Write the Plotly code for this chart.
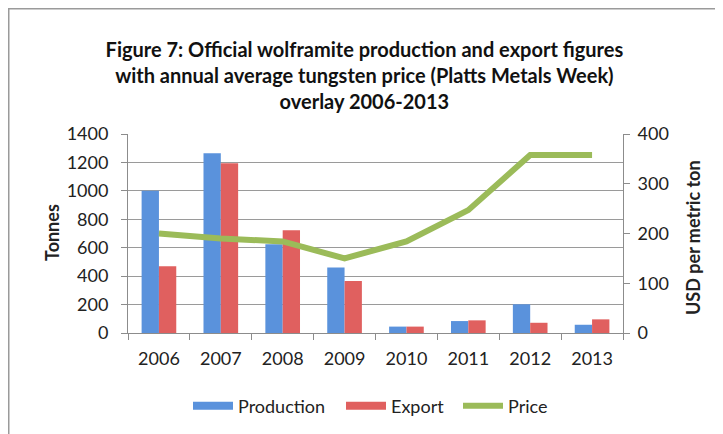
import plotly.graph_objects as go

# Data --------------------------------------------------------------------------
years = ['2006', '2007', '2008', '2009', '2010', '2011', '2012', '2013']
production = [1000, 1265, 625, 460, 45, 84, 202, 58]
export = [470, 1195, 722, 365, 45, 89, 72, 96]
price = [200, 190, 184, 150, 184, 247, 358, 358]

title_lines = [
    'Figure 7: Official wolframite production and export figures',
    'with annual average tungsten price (Platts Metals Week)',
    'overlay 2006-2013',
]

# Parameters --------------------------------------------------------------------
W, H = 723, 434
OFF = 8            # page body margin: figure is drawn 8px right and down
# plot area in screen pixels: x 128-623, y 134-333
L, T = 128 - OFF, 134 - OFF
R, B = W - (623 - OFF), H - (333 - OFF)
font_family = 'Lato, Carlito, Open Sans, sans-serif'
grid_colour = '#9a9a9a'
axis_colour = '#8c8c8c'
colour_prod = '#5a92dc'
colour_exp = '#e0605f'
colour_price = '#9bbb59'

pw, ph = W - L - R, H - T - B


def px_x(x):
    # screen x -> paper x
    return (x - OFF - L) / pw


def px_y(y):
    # screen y -> paper y
    return (H - B - (y - OFF)) / ph


fig = go.Figure()

fig.add_trace(go.Bar(
    x=years, y=production, name='Production', showlegend=False,
    marker=dict(color=colour_prod, line=dict(width=0)),
))
fig.add_trace(go.Bar(
    x=years, y=export, name='Export', showlegend=False,
    marker=dict(color=colour_exp, line=dict(width=0)),
))
fig.add_trace(go.Scatter(
    x=years, y=price, name='Price', yaxis='y2', showlegend=False,
    mode='lines', line=dict(color=colour_price, width=6),
))

# legend-only entries (wide swatches like the original), one legend each
legend_items = [('Production', colour_prod, 8, 'legend', 193),
                ('Export', colour_exp, 8, 'legend2', 346),
                ('Price', colour_price, 6, 'legend3', 463)]
for name, colour, width, leg, _ in legend_items:
    fig.add_trace(go.Scatter(
        x=[None], y=[None], name=name, mode='lines', legend=leg,
        line=dict(color=colour, width=width),
    ))

legend_base = dict(
    orientation='h', yanchor='middle', xanchor='left',
    font=dict(size=18), itemwidth=40, bgcolor='rgba(0,0,0,0)',
)
legends = {}
for _, _, _, leg, x0 in legend_items:
    legends[leg] = dict(legend_base, x=px_x(x0 - 5), y=px_y(406))

# Layout ------------------------------------------------------------------------
fig.update_layout(
    width=W, height=H,
    margin=dict(l=L, r=R, t=T, b=B, autoexpand=False),
    paper_bgcolor='white', plot_bgcolor='white',
    font=dict(family=font_family, size=18, color='#222222'),
    barmode='group', bargap=0.44, bargroupgap=0,
    title=dict(
        text='<br>'.join(title_lines),
        x=px_x(372), xanchor='center', y=1 - 49 / H, yanchor='top',
        font=dict(size=20, color='#111111', family=font_family, weight='bold'),
    ),
    **legends,
    xaxis=dict(
        automargin=False,
        showline=True, linecolor=axis_colour, linewidth=1,
        ticks='outside', tickson='boundaries', ticklen=6, tickcolor=axis_colour,
        ticklabelstandoff=9,
        showgrid=False,
    ),
    yaxis=dict(
        automargin=False,
        range=[0, 1400], dtick=200,
        showline=True, linecolor=axis_colour, linewidth=1,
        ticks='outside', ticklen=6, tickcolor=axis_colour,
        ticklabelstandoff=9,
        showgrid=True, gridcolor=grid_colour, gridwidth=1,
        zeroline=False,
    ),
    yaxis2=dict(
        automargin=False,
        range=[0, 400], dtick=100, overlaying='y', side='right',
        showline=True, linecolor=axis_colour, linewidth=1,
        ticks='outside', ticklen=6, tickcolor=axis_colour,
        ticklabelstandoff=4,
        showgrid=False, zeroline=False,
    ),
)

# Axis titles
fig.add_annotation(
    text='<b>Tonnes</b>', textangle=-90, showarrow=False,
    xref='paper', yref='paper', x=px_x(52), y=px_y(233),
    xanchor='center', yanchor='middle', font=dict(size=18),
)
fig.add_annotation(
    text='<b>USD per metric ton</b>', textangle=-90, showarrow=False,
    xref='paper', yref='paper', x=px_x(693), y=px_y(238),
    xanchor='center', yanchor='middle', font=dict(size=18),
)

# Chart border (sits at the very edge of the figure, right/bottom run off page)
fig.add_shape(
    type='rect', xref='paper', yref='paper',
    x0=(0.75 - L) / pw, x1=(W + 5 - L) / pw,
    y0=(H - B - (H + 5)) / ph, y1=(H - B - 0.75) / ph,
    line=dict(color='#9a9a9a', width=1.5), layer='below',
)

fig.write_html('out.html')
